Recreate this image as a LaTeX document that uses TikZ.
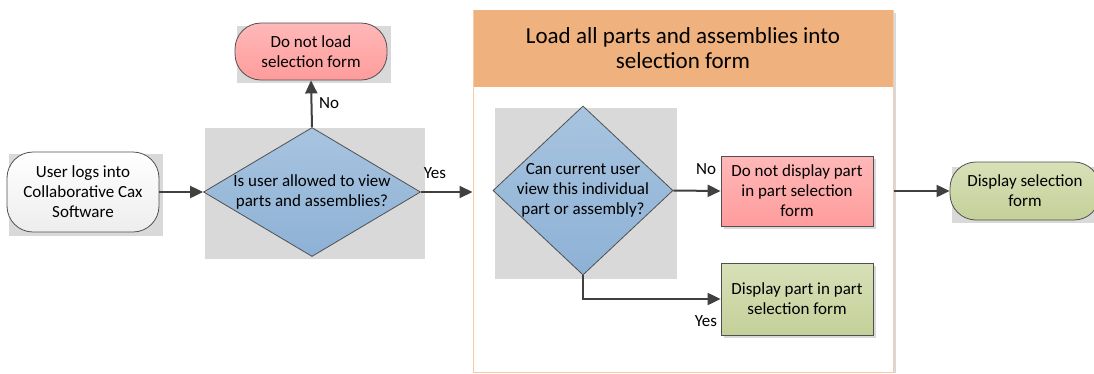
\documentclass[tikz,border=0pt]{standalone}
\usepackage{fontspec}
\setmainfont{Carlito}
\usetikzlibrary{arrows.meta,shapes.geometric,calc}
\definecolor{bggray}{HTML}{D9D9D9}
\definecolor{arrowc}{HTML}{404040}
\definecolor{pinktop}{HTML}{FFB8B8}
\definecolor{pinkbot}{HTML}{FF9C9C}
\definecolor{bluetop}{HTML}{A8C4E0}
\definecolor{bluebot}{HTML}{8DB1D5}
\definecolor{greentop}{HTML}{D8E0B8}
\definecolor{greenbot}{HTML}{C4D099}
\definecolor{orangehd}{HTML}{EFB27F}
\definecolor{orangebd}{HTML}{F8C9A4}
\definecolor{edgec}{HTML}{505050}
\tikzset{
  txt/.style={font=\fontsize{17}{20}\selectfont, align=center},
  terminal/.style={txt, draw=edgec, line width=0.8pt, rounded corners=26pt, inner sep=0pt},
  decision/.style={diamond, draw=edgec, line width=0.8pt, top color=bluetop, bottom color=bluebot, inner sep=0pt},
  procbox/.style={txt, draw=edgec, line width=0.8pt, inner sep=0pt, minimum width=152pt},
  shadowbg/.style={fill=bggray},
  flow/.style={draw=arrowc, line width=2pt, -{Triangle[length=13pt,width=12pt]}},
  lbl/.style={font=\fontsize{17}{18}\selectfont, inner sep=0pt}
}
\begin{document}
\begin{tikzpicture}[x=1pt,y=-1pt]
\clip (0,0) rectangle (1094,373);
\fill[white] (0,0) rectangle (1094,373);
% background shadows
\fill[shadowbg] (9,154) rectangle (163,236);
\fill[shadowbg] (205,128) rectangle (425,259);
\fill[shadowbg] (237,26) rectangle (391,83);
\fill[shadowbg] (952,167) rectangle (1100,223);
% container
\fill[bggray] (893,13) rectangle (896,373);
\node[draw=orangebd, line width=1pt, fill=white, minimum width=420pt, minimum height=362pt, inner sep=0pt] (cont) at (683,191) {};
\node[fill=orangehd, minimum width=419pt, minimum height=77pt, inner sep=0pt] (hdr) at (683,48.5) {};
\node[font=\fontsize{23}{25}\selectfont, align=center] (title) at (683,48) {Load all parts and assemblies into\\selection form};
\fill[shadowbg] (495,108) rectangle (677,279);
% nodes
\node[terminal, top color=white, bottom color=white!93!black, minimum width=152pt, minimum height=80pt] (start) at (83,192) {User logs into\\Collaborative Cax\\Software};
\node[decision, minimum width=217pt, minimum height=129pt, label={[txt]center:Is user allowed to view\\parts and assemblies?}] (d1) at (312,192) {};
\node[terminal, top color=pinktop, bottom color=pinkbot, minimum width=152pt, minimum height=57pt] (noload) at (311,51.5) {Do not load\\selection form};
\node[decision, minimum width=180pt, minimum height=169pt, label={[txt]center:Can current user\\view this individual\\part or assembly?}] (d2) at (583,190.5) {};
\fill[bggray] (724,159) rectangle (876,229);
\node[procbox, top color=pinktop, bottom color=pinkbot, minimum height=70pt] (nodisp) at (797,191) {Do not display part\\in part selection\\form};
\fill[bggray] (724,266) rectangle (876,338);
\node[procbox, top color=greentop, bottom color=greenbot, minimum height=72pt] (disp) at (797,299) {Display part in part\\selection form};
\node[terminal, top color=greentop, bottom color=greenbot, minimum width=150pt, minimum height=58pt] (final) at (1025,191) {Display selection\\form};
% connectors
\draw[flow] (start.east) -- (d1.west);
\draw[flow] (d1.north) -- (noload.south);
\draw[flow] (d1.east) -- (d1.east -| cont.west);
\draw[flow] (d2.east) -- (nodisp.west);
\draw[flow] (d2.south) |- (disp.west);
\draw[flow] (cont.east |- final.west) -- (final.west);
% labels
\node[lbl] (lno1) at (329,103) {No};
\node[lbl] (lyes1) at (435,173) {Yes};
\node[lbl] (lno2) at (706,169) {No};
\node[lbl] (lyes2) at (706,321) {Yes};
\end{tikzpicture}
\end{document}
